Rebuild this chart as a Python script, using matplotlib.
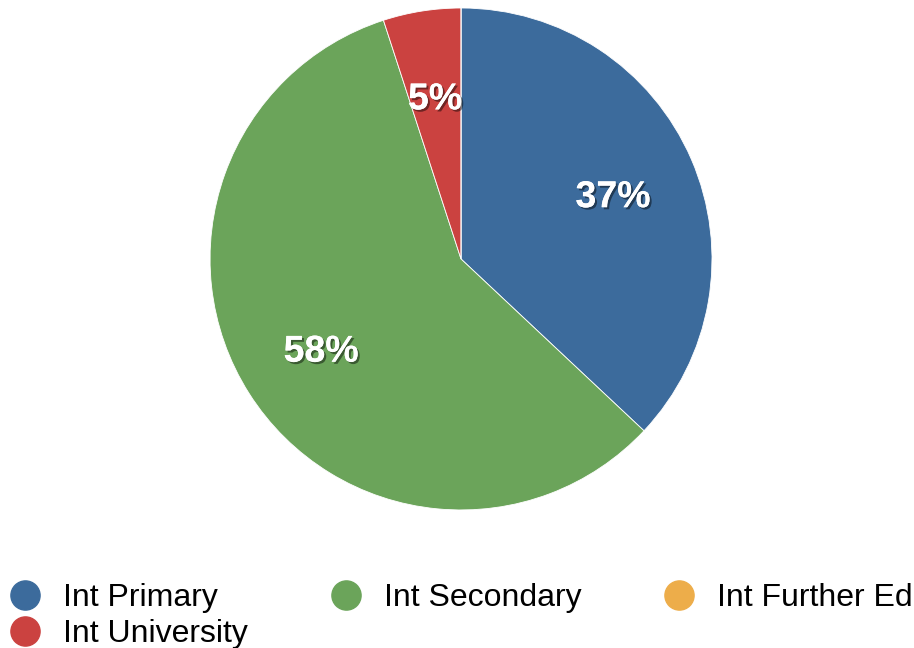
"""Pie chart of international enrolment by level."""
import matplotlib
matplotlib.use("Agg")
import matplotlib.pyplot as plt
import matplotlib.patheffects as pe
from matplotlib.lines import Line2D

labels = ["Int Primary", "Int Secondary", "Int Further Ed", "Int University"]
values = [37, 58, 0, 5]
colors = ["#3C6B9C", "#6BA45A", "#EDAD4A", "#CB4240"]

# pie draws clockwise from the top: primary, secondary, university, further ed
pie_order = [0, 1, 3, 2]
# legend fills column by column, so reorder to read row by row
legend_order = [0, 3, 1, 2]

plt.rcParams["font.family"] = ["Liberation Sans", "DejaVu Sans"]

fig = plt.figure(figsize=(9.14, 6.48), dpi=100)
ax = fig.add_axes([0.2298, 0.213, 0.5492, 0.7747])

shadow = [pe.withSimplePatchShadow(offset=(1.5, -1.5), shadow_rgbFace="black", alpha=0.45),
          pe.Normal()]

wedges, texts, autotexts = ax.pie(
    [values[i] for i in pie_order],
    colors=[colors[i] for i in pie_order],
    startangle=90, counterclock=False, radius=1,
    autopct=lambda p: f"{p:.0f}%" if p > 0.5 else "",
    pctdistance=0.66,
    wedgeprops=dict(edgecolor="white", linewidth=0.6),
    textprops=dict(color="white", fontsize=27, fontweight="bold"),
)
for t in autotexts:
    t.set_path_effects(shadow)
    t.set_va("center_baseline")

ax.set_xlim(-1, 1)
ax.set_ylim(-1, 1)
ax.set_aspect("equal")

handles = [Line2D([], [], marker="o", linestyle="none", markersize=21,
                  markerfacecolor=colors[i], markeredgecolor=colors[i])
           for i in legend_order]
fig.legend(handles, [labels[i] for i in legend_order], ncol=3, loc="upper left",
           bbox_to_anchor=(0.0098, 0.1003), frameon=False,
           fontsize=23, handlelength=1.0, handletextpad=0.7, columnspacing=2.55,
           labelspacing=0.2, borderaxespad=0, borderpad=0)

fig.savefig("out.png", dpi=100)
